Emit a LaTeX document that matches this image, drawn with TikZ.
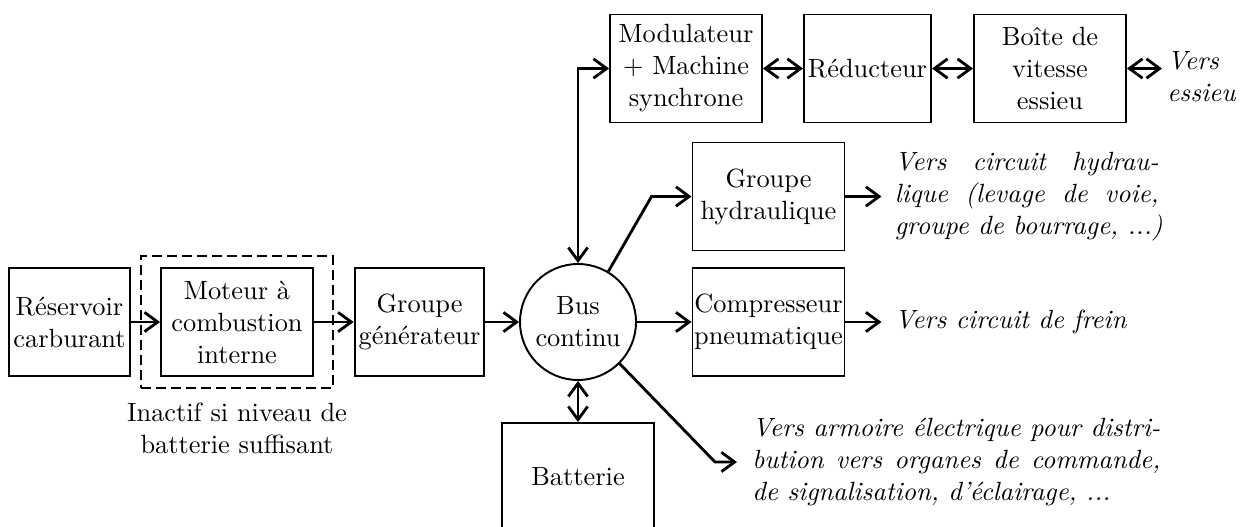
\documentclass[tikz,border=0pt]{standalone}
\usetikzlibrary{positioning,arrows.meta}
\DeclareFontFamily{TU}{lmten}{}
\DeclareFontShape{TU}{lmten}{m}{n}{<-> "[lmroman10-regular]"}{}
\DeclareFontShape{TU}{lmten}{m}{it}{<-> "[lmroman10-italic]"}{}

\begin{document}
\begin{tikzpicture}[node distance=3cm,on grid,
  every node/.style={font=\fontfamily{lmten}\fontsize{15}{18.2}\selectfont},
  bloc/.style={draw,line width=1.1pt,minimum height=2.16cm,align=center,inner xsep=2.3pt},
  large/.style={bloc,minimum width=3.04cm},
  txt/.style={font=\fontfamily{lmten}\fontsize{15}{18.2}\selectfont\itshape,align=left,inner ysep=0pt},
  fl/.style={line width=1.6pt},
  >={Straight Barb[length=7.5pt,width=11pt]}]
  \useasboundingbox (0,0) rectangle (24.96,-10.54);
  \path
  node[bloc] (res) at (1.39,-6.44) {Réservoir\\carburant}
  node[large] (mot) [right=3.35cm of res] {Moteur à\\combustion\\interne}
  node[bloc] (gen) [right=3.65cm of mot] {Groupe\\générateur}
  node[draw,circle,line width=1.1pt,minimum size=2.32cm,align=center,inner sep=0pt] (bus) [right=3.17cm of gen] {Bus\\continu}
  node[large] (hyd) [above right=2.51cm and 3.81cm of bus] {Groupe\\hydraulique}
  node[large,inner xsep=0.6pt] (comp) [right=3.81cm of bus] {Compresseur\\pneumatique}
  node[large] (bat) [below=3.1cm of bus] {Batterie}
  node[large] (mod) [above right=5.07cm and 2.16cm of bus] {Modulateur\\+ Machine\\synchrone}
  node[bloc] (red) [right=3.63cm of mod] {Réducteur}
  node[large] (boite) [right=3.65cm of red] {Boîte de\\vitesse\\essieu}
  ;
  \node[draw,line width=1.6pt,dash pattern=on 0.2cm off 0.1cm,minimum width=3.84cm,minimum height=2.64cm] (pointil) at (mot) {};
  \node[align=center] (inactif) [below=2.13cm of pointil] {Inactif si niveau de\\batterie suffisant};

  \node[txt,anchor=west,inner xsep=0.1cm] (ess) at (23.24,-1.53) {Vers\\essieu};
  \node[txt,anchor=west,inner xsep=0.26cm] (hydtxt) at ([xshift=0.72cm]hyd.east)
    {\makebox[5.28cm][s]{Vers circuit hydrau-}\\\makebox[5.28cm][s]{lique (levage de voie,}\\groupe de bourrage, ...)};
  \node[txt,anchor=west,inner xsep=0.26cm] (frein) at ([xshift=0.72cm]comp.east) {Vers circuit de frein};
  \node[txt,anchor=west,inner xsep=0.3cm] (armtxt) at (14.74,-9.24)
    {\makebox[8.16cm][s]{Vers armoire électrique pour distri-}\\\makebox[8.16cm][s]{bution vers organes de commande,}\\de signalisation, d’éclairage, ...};

  \path[fl,->]
  (res) edge (mot)
  (mot) edge (gen)
  (gen) edge (bus)
  (bus) edge (comp)
  (hyd) edge (hydtxt)
  (comp) edge (frein)
  ;
  \path[fl,<->]
  (bus) edge (bat)
  (mod) edge (red)
  (red) edge (boite)
  (boite) edge (boite -| ess.west)
  ;
  \draw[fl,<->] (bus) |- (mod);
  \draw[fl,->] (bus.59) -- ([xshift=-0.8cm]hyd.west) -- (hyd);
  \draw[fl,->] (bus.-45) -- ([xshift=-0.44cm]armtxt.west) -- (armtxt.west);
\end{tikzpicture}
\end{document}
